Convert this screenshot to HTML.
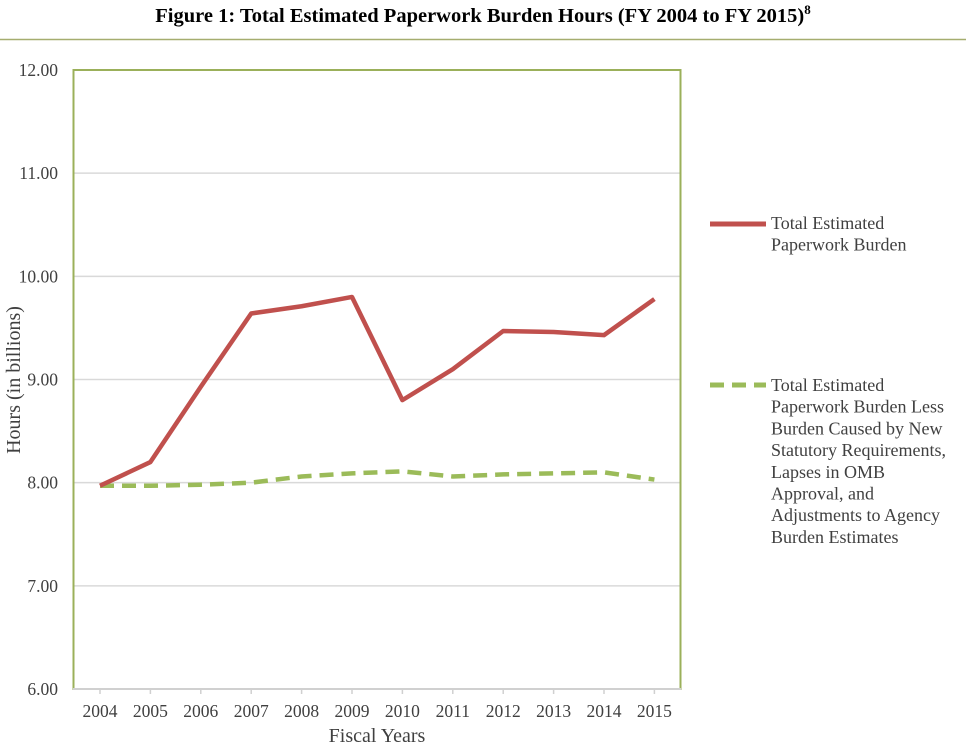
<!DOCTYPE html>
<html><head><meta charset="utf-8"><style>
body{margin:0;background:#fff;}
svg{display:block;font-family:"Liberation Serif",serif;}
</style></head><body>
<svg width="966" height="749">
<text x="483" y="22" text-anchor="middle" font-size="20.5" font-weight="bold" fill="#000">Figure 1: Total Estimated Paperwork Burden Hours (FY 2004 to FY 2015)<tspan font-size="13" dy="-8">8</tspan></text>
<line x1="0" y1="39.5" x2="966" y2="39.5" stroke="#a5ad6f" stroke-width="1.5"/>
<g id="grid"></g>
<rect x="73.5" y="70" width="607" height="619" fill="none" stroke="#9bb05a" stroke-width="2"/>
<line x1="73" y1="689" x2="681" y2="689" stroke="#d0d0d0" stroke-width="2"/>
<g id="yt"></g><g id="xt"></g><g id="series"></g>
<text x="20" y="380" transform="rotate(-90 20 380)" text-anchor="middle" font-size="20" fill="#404040">Hours (in billions)</text>
<text x="377" y="742" text-anchor="middle" font-size="20" fill="#404040">Fiscal Years</text>
<g>
<line x1="710" y1="224" x2="766" y2="224" stroke="#c0504d" stroke-width="5"/>
<text x="771" y="229" font-size="18" fill="#404040"><tspan x="771">Total Estimated</tspan><tspan x="771" dy="21.7">Paperwork Burden</tspan></text>
</g>
<g>
<line x1="710" y1="385" x2="766" y2="385" stroke="#9bbb59" stroke-width="5" stroke-dasharray="14,8"/>
<text x="771" y="391" font-size="18" fill="#404040"><tspan x="771">Total Estimated</tspan><tspan x="771" dy="21.7">Paperwork Burden Less</tspan><tspan x="771" dy="21.7">Burden Caused by New</tspan><tspan x="771" dy="21.7">Statutory Requirements,</tspan><tspan x="771" dy="21.7">Lapses in OMB</tspan><tspan x="771" dy="21.7">Approval, and</tspan><tspan x="771" dy="21.7">Adjustments to Agency</tspan><tspan x="771" dy="21.7">Burden Estimates</tspan></text>
</g>
</svg>
<script>
const years=[2004,2005,2006,2007,2008,2009,2010,2011,2012,2013,2014,2015];
const totalBurden=[7.97,8.2,8.93,9.64,9.71,9.8,8.8,9.1,9.47,9.46,9.43,9.78];
const lessBurden=[7.97,7.97,7.98,8.0,8.06,8.09,8.11,8.06,8.08,8.09,8.1,8.03];
const yTicks=[6,7,8,9,10,11,12];
const NS="http://www.w3.org/2000/svg";
const yS=v=>689-(v-6)*(619/6);
const xS=i=>100+i*50.4;
function mk(t,a,p){const e=document.createElementNS(NS,t);for(const k in a)e.setAttribute(k,a[k]);p.appendChild(e);return e;}
const grid=document.getElementById('grid'),yt=document.getElementById('yt'),xt=document.getElementById('xt'),se=document.getElementById('series');
yTicks.forEach(v=>{
 if(v>6&&v<12){const l=mk('line',{x1:74,x2:680,y1:yS(v),y2:yS(v),stroke:'#d9d9d9','stroke-width':1.5},grid);
 
 }
 const t=mk('text',{x:58,y:yS(v)+6,'text-anchor':'end','font-size':17.5,fill:'#404040'},yt);t.textContent=v.toFixed(2);
 
 
});
years.forEach((y,i)=>{
 mk('line',{x1:xS(i),x2:xS(i),y1:689,y2:694,stroke:'#d0d0d0','stroke-width':1.5},xt);
 const t=mk('text',{x:xS(i),y:717,'text-anchor':'middle','font-size':17.5,fill:'#404040'},xt);t.textContent=y;
 
 
});
const pts=a=>a.map((v,i)=>xS(i)+','+yS(v)).join(' ');
const g=mk('polyline',{points:pts(lessBurden),fill:'none',stroke:'#9bbb59','stroke-width':4.5,'stroke-dasharray':'14,8'},se);


const r=mk('polyline',{points:pts(totalBurden),fill:'none',stroke:'#c0504d','stroke-width':4.5,'stroke-linejoin':'round'},se);


</script>
</body></html>
